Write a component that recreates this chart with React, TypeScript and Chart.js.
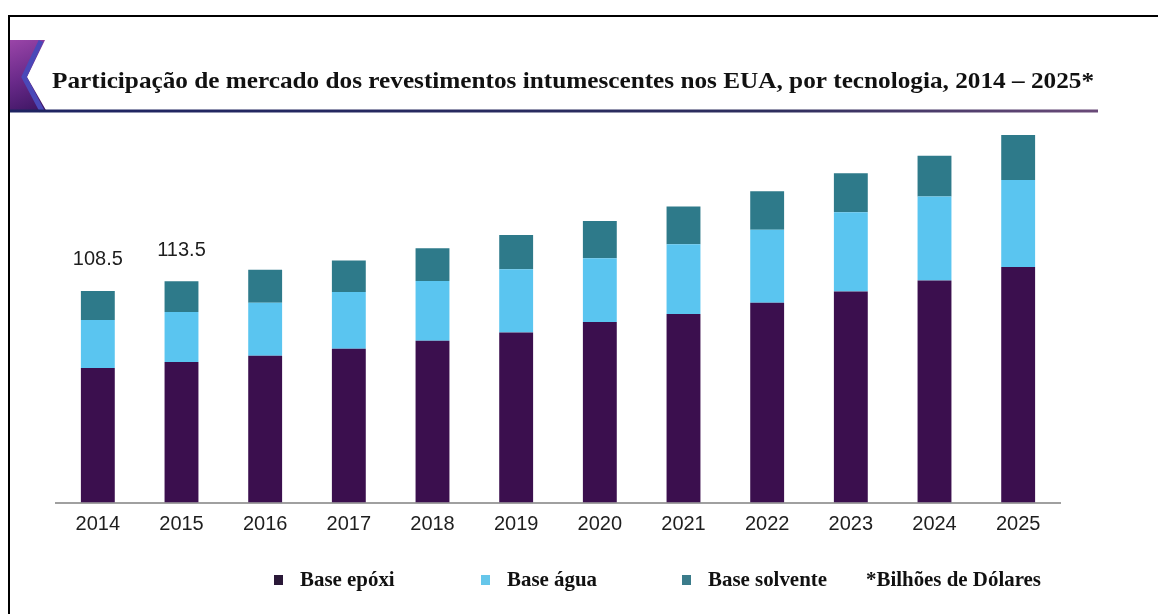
import React, { useEffect, useRef } from "react";
import { Chart, registerables } from "chart.js";

Chart.register(...registerables);

const years = ["2014", "2015", "2016", "2017", "2018", "2019", "2020", "2021", "2022", "2023", "2024", "2025"];
const baseEpoxi = [69.0, 72.0, 75.3, 78.8, 83.0, 87.2, 92.6, 96.7, 102.4, 108.2, 113.8, 120.8];
const baseAgua = [24.6, 25.7, 27.2, 29.1, 30.6, 32.4, 32.7, 35.8, 37.5, 40.7, 43.1, 44.6];
const baseSolvente = [14.9, 15.8, 16.8, 16.2, 16.8, 17.6, 19.0, 19.3, 19.7, 20.0, 20.9, 23.1];
const totalLabels = ["108.5", "113.5", "", "", "", "", "", "", "", "", "", ""];
const seriesNames = ["Base epóxi", "Base água", "Base solvente"];
const seriesColors = ["#3b0f4e", "#5ac5f0", "#2e7a8a"];
const legendMarkerColors = ["#2a1838", "#66c6ea", "#3a7b8a"];
const unitNote = "*Bilhões de Dólares";
const titleText = "Participação de mercado dos revestimentos intumescentes nos EUA, por tecnologia, 2014 – 2025*";

const SERIF = "'Liberation Serif', 'Times New Roman', serif";
const SANS = "'Liberation Sans', Arial, sans-serif";

function fitText(ctx: CanvasRenderingContext2D, text: string, x: number, y: number, width: number) {
  const w = ctx.measureText(text).width;
  ctx.save();
  ctx.translate(x, y);
  ctx.scale(width / w, 1);
  ctx.fillText(text, 0, 0);
  ctx.restore();
}

const decorPlugin = {
  id: "decor",
  beforeDraw(chart: any) {
    const ctx = chart.ctx as CanvasRenderingContext2D;
    const W = chart.width;
    const H = chart.height;
    ctx.save();
    ctx.fillStyle = "#ffffff";
    ctx.fillRect(0, 0, W, H);
    // frame lines (left + top)
    ctx.fillStyle = "#000000";
    ctx.fillRect(8, 15, 2, H - 15);
    ctx.fillRect(8, 15, W - 8, 2);

    // chevron ornament
    const g = ctx.createLinearGradient(10, 40, 40, 114);
    g.addColorStop(0, "#9a45a8");
    g.addColorStop(0.5, "#6a2a8a");
    g.addColorStop(1, "#3a1460");
    ctx.fillStyle = g;
    ctx.beginPath();
    ctx.moveTo(10, 40);
    ctx.lineTo(45, 40);
    ctx.lineTo(27, 77);
    ctx.lineTo(47, 112);
    ctx.lineTo(10, 112);
    ctx.closePath();
    ctx.fill();
    ctx.strokeStyle = "#4a48b8";
    ctx.lineWidth = 5;
    ctx.beginPath();
    ctx.moveTo(41, 41);
    ctx.lineTo(24, 77);
    ctx.lineTo(42, 111);
    ctx.stroke();

    // title underline
    const lg = ctx.createLinearGradient(10, 0, 1100, 0);
    lg.addColorStop(0, "#1e2462");
    lg.addColorStop(0.7, "#2e2e5e");
    lg.addColorStop(1, "#6a4a78");
    ctx.fillStyle = lg;
    ctx.fillRect(10, 109.5, 1088, 3);

    // title
    ctx.fillStyle = "#111111";
    ctx.font = `bold 24px ${SERIF}`;
    ctx.textBaseline = "alphabetic";
    ctx.textAlign = "left";
    fitText(ctx, titleText, 52, 88, 1094 - 52);
    ctx.restore();
  },
  afterDraw(chart: any) {
    const ctx = chart.ctx as CanvasRenderingContext2D;
    ctx.save();
    // total labels
    const topMeta = chart.getDatasetMeta(chart.data.datasets.length - 1);
    ctx.fillStyle = "#1e1e1e";
    ctx.font = `20px ${SANS}`;
    ctx.textAlign = "center";
    ctx.textBaseline = "middle";
    totalLabels.forEach((t, i) => {
      if (!t) return;
      const el = topMeta.data[i];
      ctx.fillText(t, el.x, el.y - 31);
    });

    // legend
    const markerX = [274, 481, 682];
    const cy = 580;
    ctx.font = `bold 22px ${SERIF}`;
    ctx.textAlign = "left";
    ctx.textBaseline = "middle";
    seriesNames.forEach((name, i) => {
      ctx.fillStyle = legendMarkerColors[i];
      ctx.fillRect(markerX[i], cy - 5, 9, 10);
      ctx.fillStyle = "#111111";
      const w = ctx.measureText(name).width;
      fitText(ctx, name, markerX[i] + 26, cy, w * 0.95);
    });
    const nw = ctx.measureText(unitNote).width;
    fitText(ctx, unitNote, 866, cy, nw * 0.95);
    ctx.restore();
  },
};

export default function App() {
  const ref = useRef<HTMLCanvasElement | null>(null);
  useEffect(() => {
    if (!ref.current) return;
    const data = [baseEpoxi, baseAgua, baseSolvente];
    const chart = new Chart(ref.current, {
      type: "bar",
      data: {
        labels: years,
        datasets: seriesNames.map((name, i) => ({
          label: name,
          data: data[i],
          backgroundColor: seriesColors[i],
          borderWidth: 0,
          barPercentage: 0.405,
          categoryPercentage: 1,
        })),
      },
      options: {
        responsive: false,
        animation: false,
        devicePixelRatio: 1,
        layout: { padding: { left: 56, right: 98, top: 112.5, bottom: 71.5 } },
        plugins: {
          legend: { display: false },
          title: { display: false },
          tooltip: { enabled: false },
        },
        scales: {
          x: {
            stacked: true,
            grid: { display: false, drawTicks: false },
            border: { display: true, color: "#a0a0a0", width: 2 },
            ticks: {
              color: "#1e1e1e",
              font: { family: SANS, size: 20 },
              padding: 10,
            },
            afterFit: (s: any) => {
              s.height = 40;
            },
          },
          y: { stacked: true, display: false, min: 0, max: 200 },
        },
      },
      plugins: [decorPlugin],
    } as any);
    return () => chart.destroy();
  }, []);
  return (
    <div style={{ position: "absolute", left: 0, top: 0, width: 1158, height: 614 }}>
      <canvas ref={ref} width={1158} height={614} style={{ display: "block" }} />
    </div>
  );
}
